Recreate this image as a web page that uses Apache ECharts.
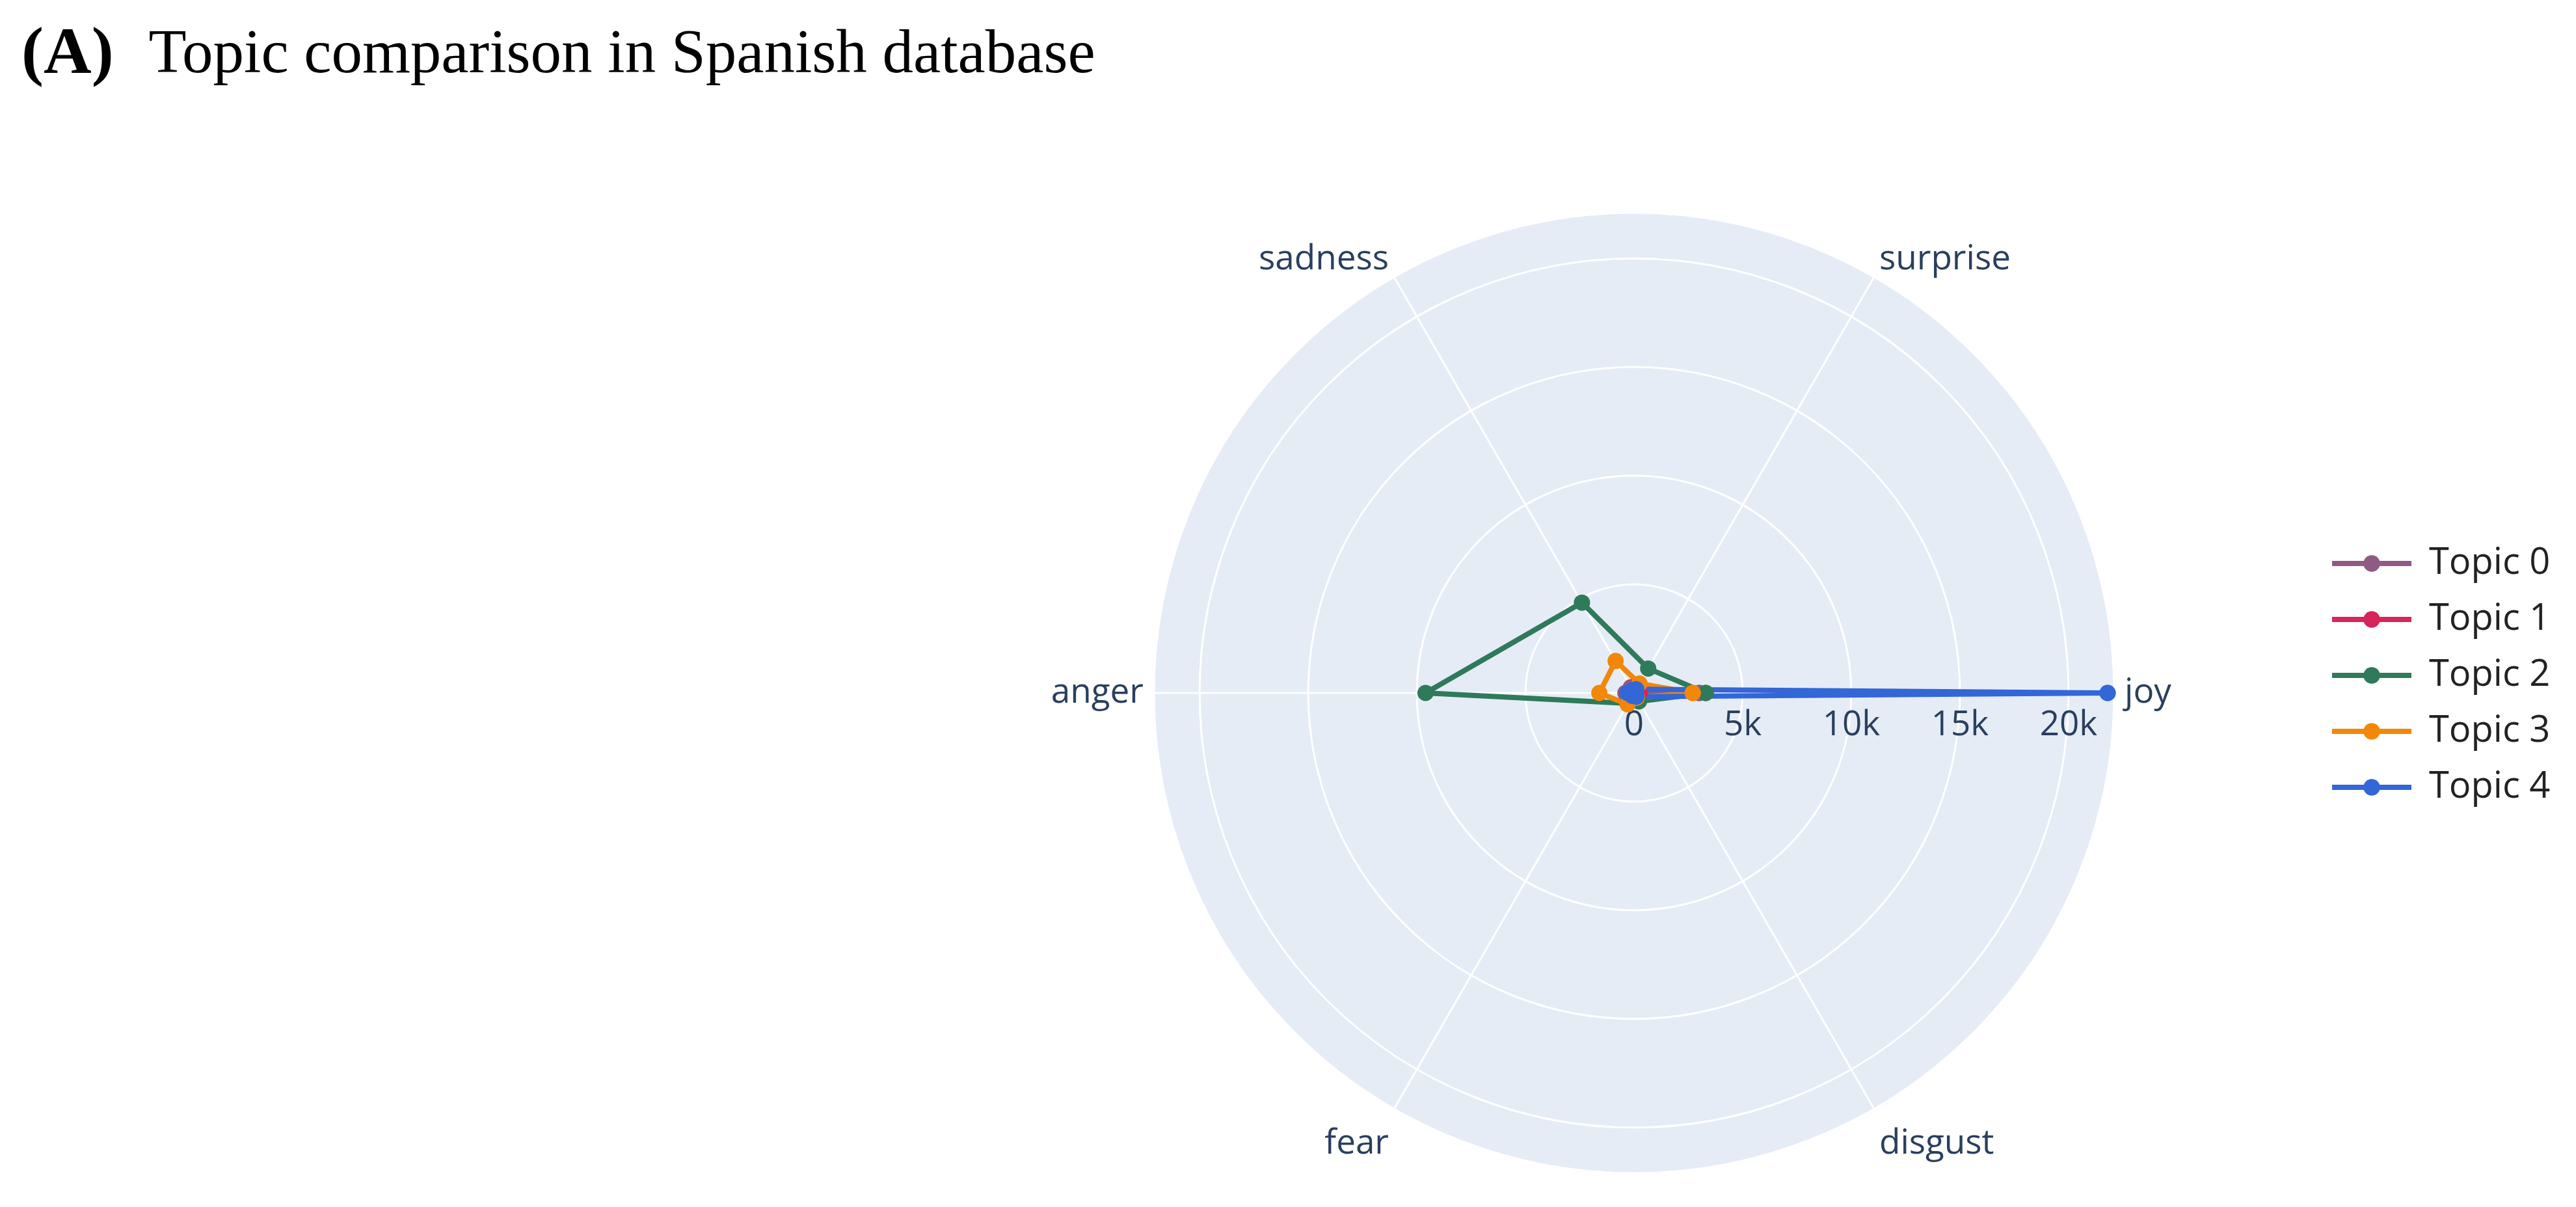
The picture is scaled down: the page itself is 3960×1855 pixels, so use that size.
<!DOCTYPE html>
<html>
<head>
<meta charset="utf-8">
<script src="https://cdn.jsdelivr.net/npm/echarts@6/dist/echarts.min.js"></script>
<style>
    html, body { margin: 0; padding: 0; background: #fff; }
    #chart { width: 3960px; height: 1855px; }
</style>
</head>
<body>
<div id="chart"></div>
<script>
// categories around the circle (counter-clockwise from joy)
const emotions = ['joy', 'surprise', 'sadness', 'anger', 'fear', 'disgust'];
const angles = [0, 60, 120, 180, 240, 300];
const radialTicks = ['0', '5k', '10k', '15k', '20k'];

const topicNames = ['Topic 0', 'Topic 1', 'Topic 2', 'Topic 3', 'Topic 4'];
const topicColors = ['#8f5a84', '#d7245a', '#2e7a5a', '#f2870a', '#3366d6'];

// values per emotion, same order as emotions
const topic0 = [3000, 150, 300, 400, 200, 150];
const topic1 = [250, 100, 150, 200, 100, 100];
const topic2 = [3300, 1300, 4800, 9600, 550, 450];
const topic3 = [2700, 500, 1700, 1600, 600, 250];
const topic4 = [21800, 200, 150, 300, 150, 200];
const topicValues = [topic0, topic1, topic2, topic3, topic4];

const chart = echarts.init(document.getElementById('chart'));

const labelFont = { fontFamily: 'Open Sans', fontSize: 53, color: '#2a3f5f' };

// close the loop by going back to the first emotion at 360 deg
const toPolar = (vals) => {
    const pts = vals.map((v, i) => [v, angles[i]]);
    pts.push([vals[0], 360]);
    return pts;
};

// labels above and below the circle are both nudged down a little
const emotionLabel = (v) => {
    const i = Math.round(v / 60);
    const name = emotions[i];
    if (!name) return '';
    const key = (i === 1 || i === 2) ? 'up' : (i === 4 || i === 5) ? 'down' : 'mid';
    return '{' + key + '|' + name + '}';
};

const series = topicNames.map((name, i) => ({
    name: name,
    type: 'line',
    coordinateSystem: 'polar',
    polarIndex: 1,
    data: toPolar(topicValues[i]),
    symbol: 'circle',
    symbolSize: 25,
    showSymbol: true,
    color: topicColors[i],
    lineStyle: { width: 8, color: topicColors[i] },
    itemStyle: { color: topicColors[i] },
    emphasis: { disabled: true }
}));

chart.setOption({
    animation: false,
    backgroundColor: '#ffffff',
    title: {
        left: 28,
        top: 30,
        text: '{a|(A)}{b|Topic comparison in Spanish database}',
        textStyle: {
            rich: {
                a: { fontFamily: 'Liberation Serif', fontWeight: 'bold', fontSize: 102, color: '#000', padding: [0, 54, 0, 0] },
                b: { fontFamily: 'Liberation Serif', fontWeight: 'normal', fontSize: 95, color: '#000' }
            }
        }
    },
    legend: {
        orient: 'vertical',
        left: 3581,
        top: 838,
        padding: 0,
        itemWidth: 122,
        itemHeight: 32,
        itemGap: 30,
        data: topicNames,
        lineStyle: { width: 8 },
        textStyle: { fontFamily: 'Open Sans', fontSize: 56, color: '#222222', padding: [0, 0, 0, 22] }
    },
    polar: [
        { center: [2512, 1065], radius: 738 },
        { center: [2512, 1065], radius: 738 }
    ],
    angleAxis: [
        {
            // background disc
            polarIndex: 0,
            z: 0,
            type: 'value',
            min: 0,
            max: 360,
            interval: 60,
            startAngle: 0,
            clockwise: false,
            axisLine: { show: false },
            axisTick: { show: false },
            axisLabel: { show: false },
            splitLine: { show: false },
            splitArea: { show: true, areaStyle: { color: ['#e5ecf6'] } }
        },
        {
            polarIndex: 1,
            z: 1,
            type: 'value',
            min: 0,
            max: 360,
            interval: 60,
            startAngle: 0,
            clockwise: false,
            axisLine: { show: false },
            axisTick: { show: false },
            axisLabel: {
                margin: 16,
                fontFamily: 'Open Sans',
                fontSize: 53,
                color: '#2a3f5f',
                formatter: emotionLabel,
                rich: {
                    up: Object.assign({ lineHeight: 27 }, labelFont),
                    down: Object.assign({ lineHeight: 79 }, labelFont),
                    mid: Object.assign({ lineHeight: 60 }, labelFont)
                }
            },
            splitLine: { show: true, lineStyle: { color: '#ffffff', width: 3 } },
            splitArea: { show: false }
        }
    ],
    radiusAxis: [
        {
            polarIndex: 0,
            z: 0,
            type: 'value',
            min: 0,
            max: 22100,
            axisLine: { show: false },
            axisTick: { show: false },
            axisLabel: { show: false },
            splitLine: { show: false }
        },
        {
            polarIndex: 1,
            z: 1,
            type: 'value',
            min: 0,
            max: 22100,
            interval: 5000,
            axisLine: { show: false },
            axisTick: { show: false },
            axisLabel: {
                margin: -50,
                verticalAlign: 'middle',
                align: 'center',
                fontFamily: 'Open Sans',
                fontSize: 53,
                color: '#2a3f5f',
                formatter: (v) => (v % 5000 === 0 ? radialTicks[v / 5000] : '')
            },
            splitLine: { show: true, lineStyle: { color: '#ffffff', width: 3 } }
        }
    ],
    series: series
});
</script>
</body>
</html>
